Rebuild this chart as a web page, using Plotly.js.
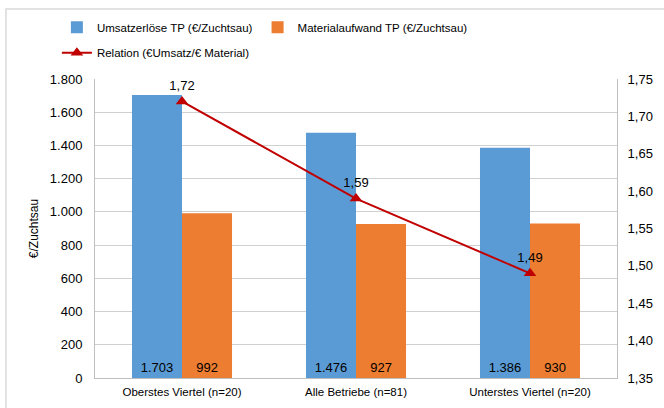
<!DOCTYPE html>
<html><head><meta charset="utf-8">
<script src="https://cdn.plot.ly/plotly-3.0.1.min.js"></script>
<style>body{margin:0;padding:0;background:#fff}#c{width:664px;height:408px}</style>
</head><body><div id="c"></div>
<script>
const categories = ["Oberstes Viertel (n=20)", "Alle Betriebe (n=81)", "Unterstes Viertel (n=20)"];
const umsatz = [1703, 1476, 1386];
const material = [992, 927, 930];
const relation = [1.72, 1.59, 1.49];
const seriesNames = ["Umsatzerlöse TP (€/Zuchtsau)", "Materialaufwand TP (€/Zuchtsau)", "Relation (€Umsatz/€ Material)"];

const FAM = "'Liberation Sans', Arial, sans-serif";
const FS = 11.5;   // text labels
const FN = 13;     // numbers
const font = {family: FAM, size: FS, color: "#000"};

const traces = [
  {type: "bar", x: categories, y: umsatz, name: seriesNames[0], marker: {color: "#5B9BD5"},
   texttemplate: "%{y:,}", textposition: "inside", insidetextanchor: "start", textangle: 0,
   textfont: {family: FAM, size: FN, color: "#000"}, legend: "legend"},
  {type: "bar", x: categories, y: material, name: seriesNames[1], marker: {color: "#ED7D31"},
   texttemplate: "%{y:,}", textposition: "inside", insidetextanchor: "start", textangle: 0,
   textfont: {family: FAM, size: FN, color: "#000"}, legend: "legend"},
  {type: "scatter", mode: "lines+markers+text", x: categories, y: relation, yaxis: "y2", name: seriesNames[2],
   line: {color: "#C00000", width: 2}, marker: {symbol: "triangle-up", size: 11, color: "#C00000"},
   texttemplate: "%{y:.2f}", textposition: "top center", textfont: {family: FAM, size: FN, color: "#000"},
   legend: "legend2"}
];

const layout = {
  width: 664, height: 408,
  margin: {l: 95, r: 47, t: 79, b: 30},
  paper_bgcolor: "#fff", plot_bgcolor: "#fff",
  font: font,
  separators: ",.",
  barmode: "group", bargap: 0.425, bargroupgap: 0,
  showlegend: true,
  legend: {orientation: "h", x: -0.073, y: 1.173, xanchor: "left", yanchor: "middle",
           font: {family: FAM, size: FS}, traceorder: "normal", itemgap: 20},
  legend2: {orientation: "h", x: -0.073, y: 1.088, xanchor: "left", yanchor: "middle",
           font: {family: FAM, size: FS}},
  xaxis: {type: "category", showline: true, linecolor: "#bfbfbf", linewidth: 1, ticks: "",
          ticklabelstandoff: 3, tickfont: {family: FAM, size: FS}, fixedrange: true},
  yaxis: {range: [0, 1800], dtick: 200, tickformat: ",d", showgrid: true, gridcolor: "#d0d0d0",
          showline: true, linecolor: "#bfbfbf", zeroline: false, ticks: "", ticklabelstandoff: 9,
          title: {text: "€/Zuchtsau", font: {family: FAM, size: 12}, standoff: 8},
          tickfont: {family: FAM, size: FN}},
  yaxis2: {overlaying: "y", side: "right", range: [1.35, 1.75], dtick: 0.05, tickformat: ".2f",
           showgrid: false, showline: true, linecolor: "#bfbfbf", zeroline: false, ticks: "",
           ticklabelstandoff: 7, tickfont: {family: FAM, size: FN}},
  shapes: [{type: "rect", xref: "paper", yref: "paper", x0: -0.1705, x1: 1.3, y0: -0.3, y1: 1.234,
            line: {color: "#d9d9d9", width: 1.5}, layer: "below"}]
};

Plotly.newPlot("c", traces, layout, {displayModeBar: false, staticPlot: true});
</script></body></html>
